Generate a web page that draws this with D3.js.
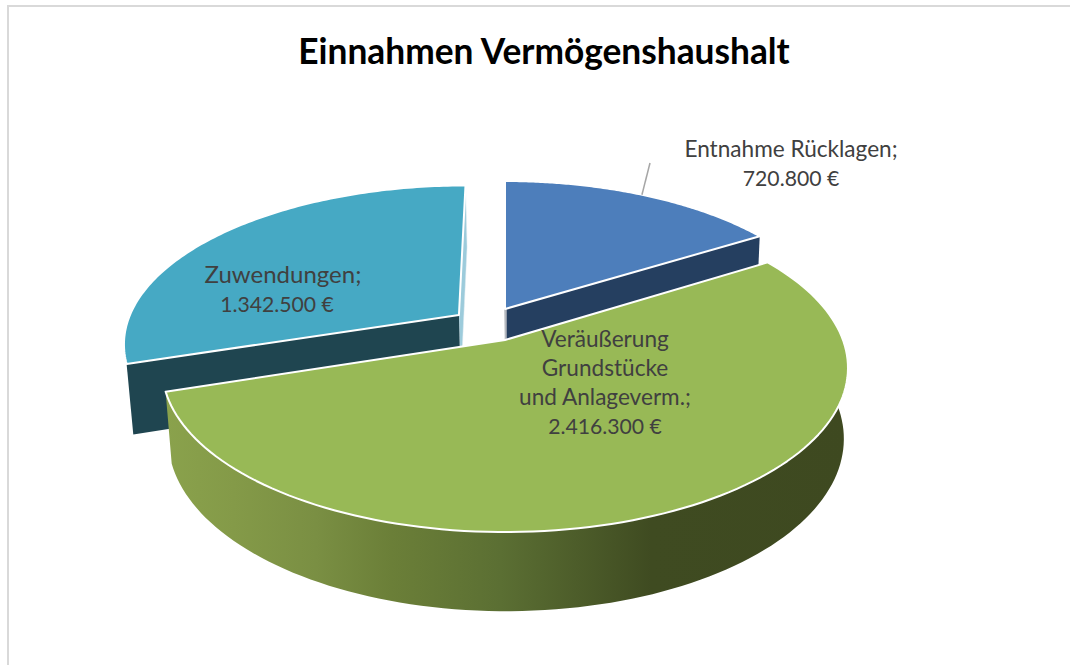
<!DOCTYPE html>
<html>
<head>
<meta charset="utf-8">
<script src="https://cdn.jsdelivr.net/npm/d3@7"></script>
<style>
  html, body { margin: 0; padding: 0; background: #fff; }
  svg { display: block; }
  text { font-family: Lato, "Open Sans", sans-serif; text-anchor: middle; }
</style>
</head>
<body>
<div id="graphic"></div>
<script>
var categories = ["Entnahme Rücklagen", "Veräußerung Grundstücke und Anlageverm.", "Zuwendungen"];
var values = [720800, 2416300, 1342500];
var labelLines = [["Entnahme Rücklagen;"], ["Veräußerung", "Grundstücke", "und Anlageverm.;"], ["Zuwendungen;"]];
var topColors = ["#4d7ebb", "#98b956", "#46a9c4"];
var wallColors = ["#253f60", "#7c9443", "#1f4550"];
var explode = [[0, -0.201], [0, 0], [-0.14, -0.161]];
var labelPos = [[791, 157], [605, 347], [283, 283]];
var labelSize = [22.6, 22.6, 24];
var valueShift = [0, 0, -6];
var title = "Einnahmen Vermögenshaushalt";

var width = 1070, height = 665;
var persp = 0.17, shrinkX = 0.985, shrinkY = 0.976, thick = 69.5;

var svg = d3.select("#graphic").append("svg").attr("width", width).attr("height", height);

// frame of the chart area
svg.append("path").attr("d", "M8,665V6H1070").attr("fill", "none").attr("stroke", "#d9d9d9").attr("stroke-width", 2);

var x = d3.scaleLinear().domain([-1, 1]).range([505 - 338, 505 + 338]);
var y = d3.scaleLinear().domain([-1, 1]).range([340 - 159.4, 340 + 159.4]);

var euro = d3.formatLocale({decimal: ",", thousands: ".", grouping: [3], currency: ["", " €"]}).format("$,.0f");

var pie = d3.pie().sort(null)(values);

// ground plane point -> screen; p[1] grows toward the viewer
function topPt(p) {
  var s = 1 - persp * p[1];
  return [x(p[0] / s), y(p[1] / s)];
}
function botPt(p) {
  var s = 1 - persp * p[1];
  return [x(p[0] / s * shrinkX) + 1, y(p[1] / s * shrinkY) + thick / s];
}
function rim(i, a) {
  return [explode[i][0] + Math.sin(a), explode[i][1] - Math.cos(a)];
}
function arcPts(d) {
  return d3.range(0, 121).map(function(k) {
    return rim(d.index, d.startAngle + (d.endAngle - d.startAngle) * k / 120);
  });
}

var line = d3.line();

var defs = svg.append("defs");
var grad = defs.append("linearGradient").attr("id", "greenWall")
  .attr("gradientUnits", "userSpaceOnUse").attr("x1", 165).attr("x2", 850).attr("y1", 0).attr("y2", 0);
[[0, "#8aa24c"], [0.1, "#849a48"], [0.22, "#7a8f43"], [0.33, "#6b7f38"], [0.49, "#5b6f33"], [0.71, "#3f4b21"], [1, "#3e4920"]].forEach(function(s) {
  grad.append("stop").attr("offset", s[0]).attr("stop-color", s[1]);
});

function cutWall(d, a) {
  var c = explode[d.index], e = rim(d.index, a);
  return line([topPt(c), topPt(e), botPt(e), botPt(c)]) + "Z";
}
function face(d) {
  return line([topPt(explode[d.index])].concat(arcPts(d).map(topPt))) + "Z";
}
function drawFace(d) {
  svg.append("path").attr("d", face(d)).attr("fill", topColors[d.index])
    .attr("stroke", "#fff").attr("stroke-width", 2).attr("stroke-linejoin", "round");
}

// back slices first, the big green one covers them
var blue = pie[0], green = pie[1], teal = pie[2];

svg.append("path").attr("d", cutWall(teal, teal.endAngle)).attr("fill", "#9ccbdb").attr("stroke", "#dfeaf0").attr("stroke-width", 0.5);
svg.append("path").attr("d", cutWall(teal, teal.startAngle)).attr("fill", wallColors[2]);
drawFace(teal);

svg.append("path").attr("d", cutWall(blue, blue.endAngle)).attr("fill", wallColors[0]);
svg.append("path").attr("d", cutWall(blue, blue.startAngle)).attr("stroke", "#b5b9bf").attr("stroke-width", 1.5).attr("fill", "none");
drawFace(blue);

var rimG = arcPts(green);
svg.append("path").attr("d", line(rimG.map(topPt).concat(rimG.slice().reverse().map(botPt))) + "Z").attr("fill", "url(#greenWall)");
drawFace(green);

// leader of the blue label
var leadStart = topPt(rim(0, 0.5));
svg.append("line").attr("x1", leadStart[0]).attr("y1", leadStart[1]).attr("x2", 650).attr("y2", 163)
  .attr("stroke", "#a6a6a6").attr("stroke-width", 1.5);

svg.append("text").attr("x", 544).attr("y", 64).attr("font-size", 35.3).attr("font-weight", 700).attr("fill", "#000").text(title);

categories.forEach(function(c, i) {
  var t = svg.append("text").attr("fill", "#404040");
  labelLines[i].forEach(function(l, n) {
    t.append("tspan").attr("x", labelPos[i][0]).attr("y", labelPos[i][1] + n * 29).attr("font-size", labelSize[i]).text(l);
  });
  t.append("tspan").attr("x", labelPos[i][0] + valueShift[i]).attr("y", labelPos[i][1] + labelLines[i].length * 29)
    .attr("font-size", 21.2).text(euro(values[i]));
});
</script>
</body>
</html>
